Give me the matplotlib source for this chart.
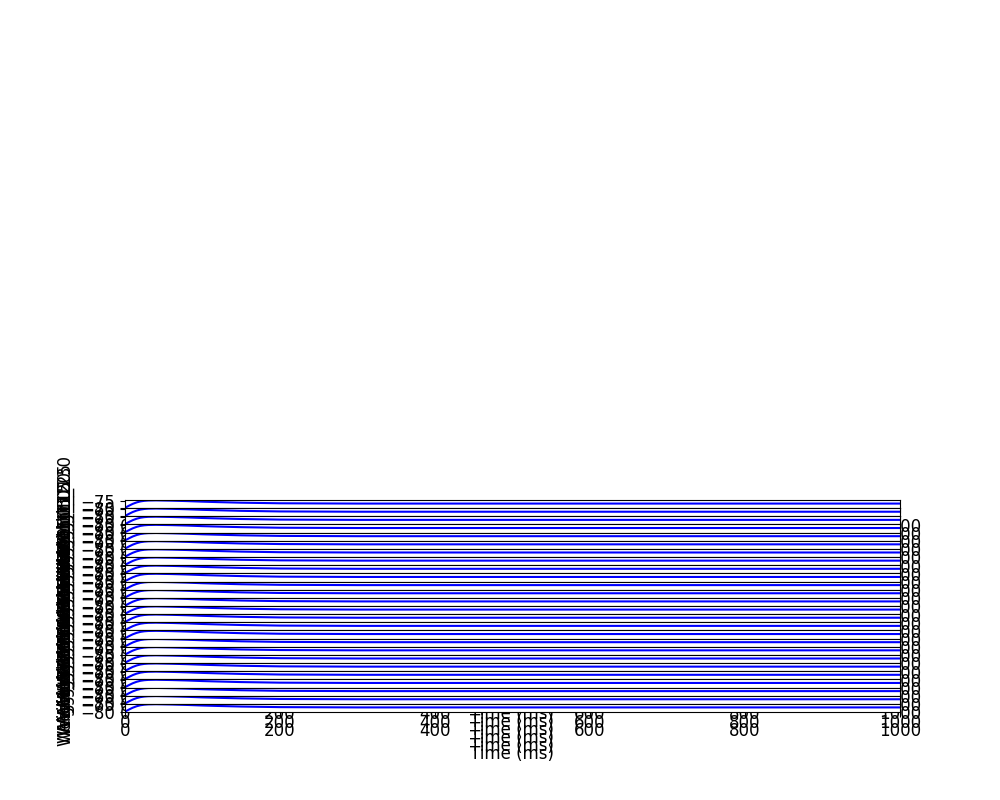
import matplotlib
matplotlib.use('Agg')
import matplotlib.pyplot as plt

# membrane potential trace (same shape in each one)
time_ms = [0, 5, 10, 15, 20, 25, 30, 40, 50, 60, 80, 100, 120, 150, 200, 250, 300, 400, 600, 800, 1000]
v_mv = [-80.0, -78.6, -77.3, -76.3, -75.6, -75.2, -75.0, -74.9, -75.0, -75.1, -75.4, -75.8,
        -76.1, -76.5, -76.9, -77.0, -77.1, -77.1, -77.1, -77.1, -77.1]

# one panel per weight, top to bottom
weights = [130, 125, 120, 115, 110, 105, 100, 95, 90, 85, 80, 75, 70,
           65, 60, 55, 50, 45, 40, 35, 30, 25, 20, 15, 10, 5]

fig = plt.figure(figsize=(10, 8), dpi=100)
gs = fig.add_gridspec(len(weights), 1, top=0.375, bottom=0.11, hspace=0)

for i, w in enumerate(weights):
    ax = fig.add_subplot(gs[i])
    ax.plot(time_ms, v_mv, color='b', linewidth=1.5)
    ax.set_xlim(0, 1000)
    ax.tick_params(labelsize=12)
    ax.set_xlabel('Time (ms)', fontsize=12)
    ax.set_ylabel('Weight_' + str(w), fontsize=12)

fig.savefig('out.png')
